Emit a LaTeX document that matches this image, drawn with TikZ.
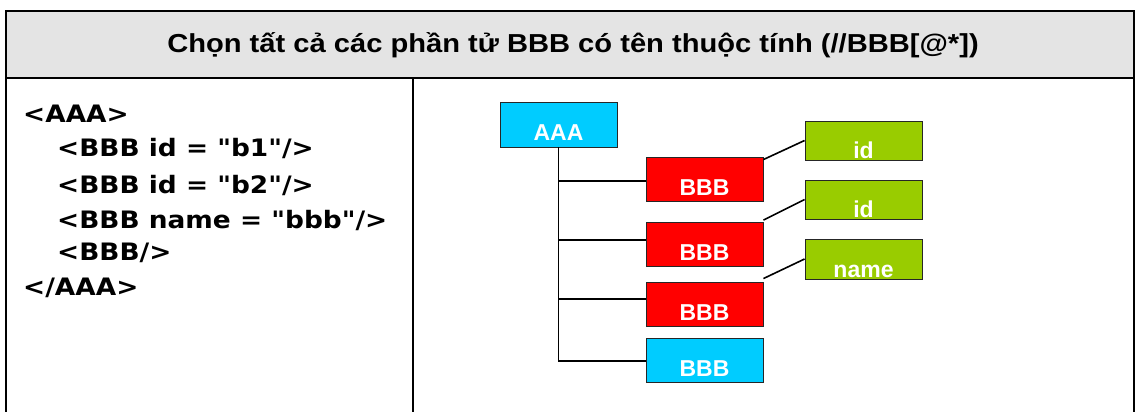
\documentclass[tikz,border=0pt]{standalone}
\usepackage{fontspec}
\setmainfont{Liberation Sans}
\newfontfamily\codefont[FakeStretch=1.1]{DejaVu Sans}
\newfontfamily\titlefont[FakeStretch=1.12]{Liberation Sans}
\definecolor{hdrgray}{HTML}{E4E4E4}
\definecolor{boxcyan}{HTML}{00CCFF}
\definecolor{boxred}{HTML}{FF0000}
\definecolor{boxgreen}{HTML}{99CC00}
\tikzset{
  frame/.style={line width=2pt, line cap=rect},
  titletext/.style={font=\titlefont\bfseries\fontsize{26}{26}\selectfont, inner sep=0pt},
  code/.style={font=\codefont\bfseries\fontsize{24}{24}\selectfont, inner sep=0pt},
  treebox/.style={draw=black!85, line width=0.9pt, minimum width=117pt, inner xsep=0pt, inner ysep=0pt,
     text=white, font=\bfseries\fontsize{23}{23}\selectfont},
  aaabox/.style={treebox, fill=boxcyan, text height=38pt, text depth=7pt},
  redbox/.style={treebox, fill=boxred, text height=38pt, text depth=6pt},
  bluebox/.style={treebox, fill=boxcyan, text height=38pt, text depth=6pt},
  greenbox/.style={treebox, fill=boxgreen, text height=37pt, text depth=2pt},
  link/.style={line width=1.6pt, black}
}
\begin{document}
\begin{tikzpicture}[x=1pt,y=-1pt]
\useasboundingbox (0,0) rectangle (1136,412);
% table
\fill[hdrgray] (6,11) rectangle (1134,78);
\draw[frame] (6,412) -- (6,11) -- (1134,11) -- (1134,412);
\draw[frame] (6,78) -- (1134,78);
\draw[frame] (413,78) -- (413,412);
\node[titletext, anchor=base] (title) at (573,53) {Chọn tất cả các phần tử BBB có tên thuộc tính (//BBB[@*])};
% code
\node[code, anchor=base west] (l1) at (23,122) {<AAA>};
\node[code, anchor=base west] (l2) at (57,157) {<BBB id = "b1"/>};
\node[code, anchor=base west] (l3) at (57,193) {<BBB id = "b2"/>};
\node[code, anchor=base west] (l4) at (57,228) {<BBB name = "bbb"/>};
\node[code, anchor=base west] (l5) at (57,260) {<BBB/>};
\node[code, anchor=base west] (l6) at (23,295) {</AAA>};
% tree
\node[aaabox] (aaa) at (558.5,124.5) {AAA};
\node[redbox] (b1) at (704.5,179) {BBB};
\node[redbox] (b2) at (704.5,244.5) {BBB};
\node[redbox] (b3) at (704.5,304) {BBB};
\node[bluebox] (b4) at (704.5,360) {BBB};
\node[greenbox] (g1) at (863.5,140.5) {id};
\node[greenbox] (g2) at (863.5,199.5) {id};
\node[greenbox, text height=38pt] (g3) at (863.5,259) {name};
\coordinate (t1) at ([yshift=-2pt]b1.west);
\coordinate (t2) at ([yshift=4.5pt]b2.west);
\coordinate (t3) at ([yshift=5pt]b3.west);
\coordinate (t4) at ([yshift=-1pt]b4.west);
\draw[link] (aaa.south) -- (aaa.south |- t4) -- (t4);
\draw[link] (aaa.south |- t1) -- (t1);
\draw[link] (aaa.south |- t2) -- (t2);
\draw[link] (aaa.south |- t3) -- (t3);
\draw[link] ([yshift=-3pt]b1.north east) -- (g1.west);
\draw[link] ([yshift=2pt]b2.north east) -- (g2.west);
\draw[link] ([yshift=3pt]b3.north east) -- (g3.west);
\end{tikzpicture}
\end{document}
